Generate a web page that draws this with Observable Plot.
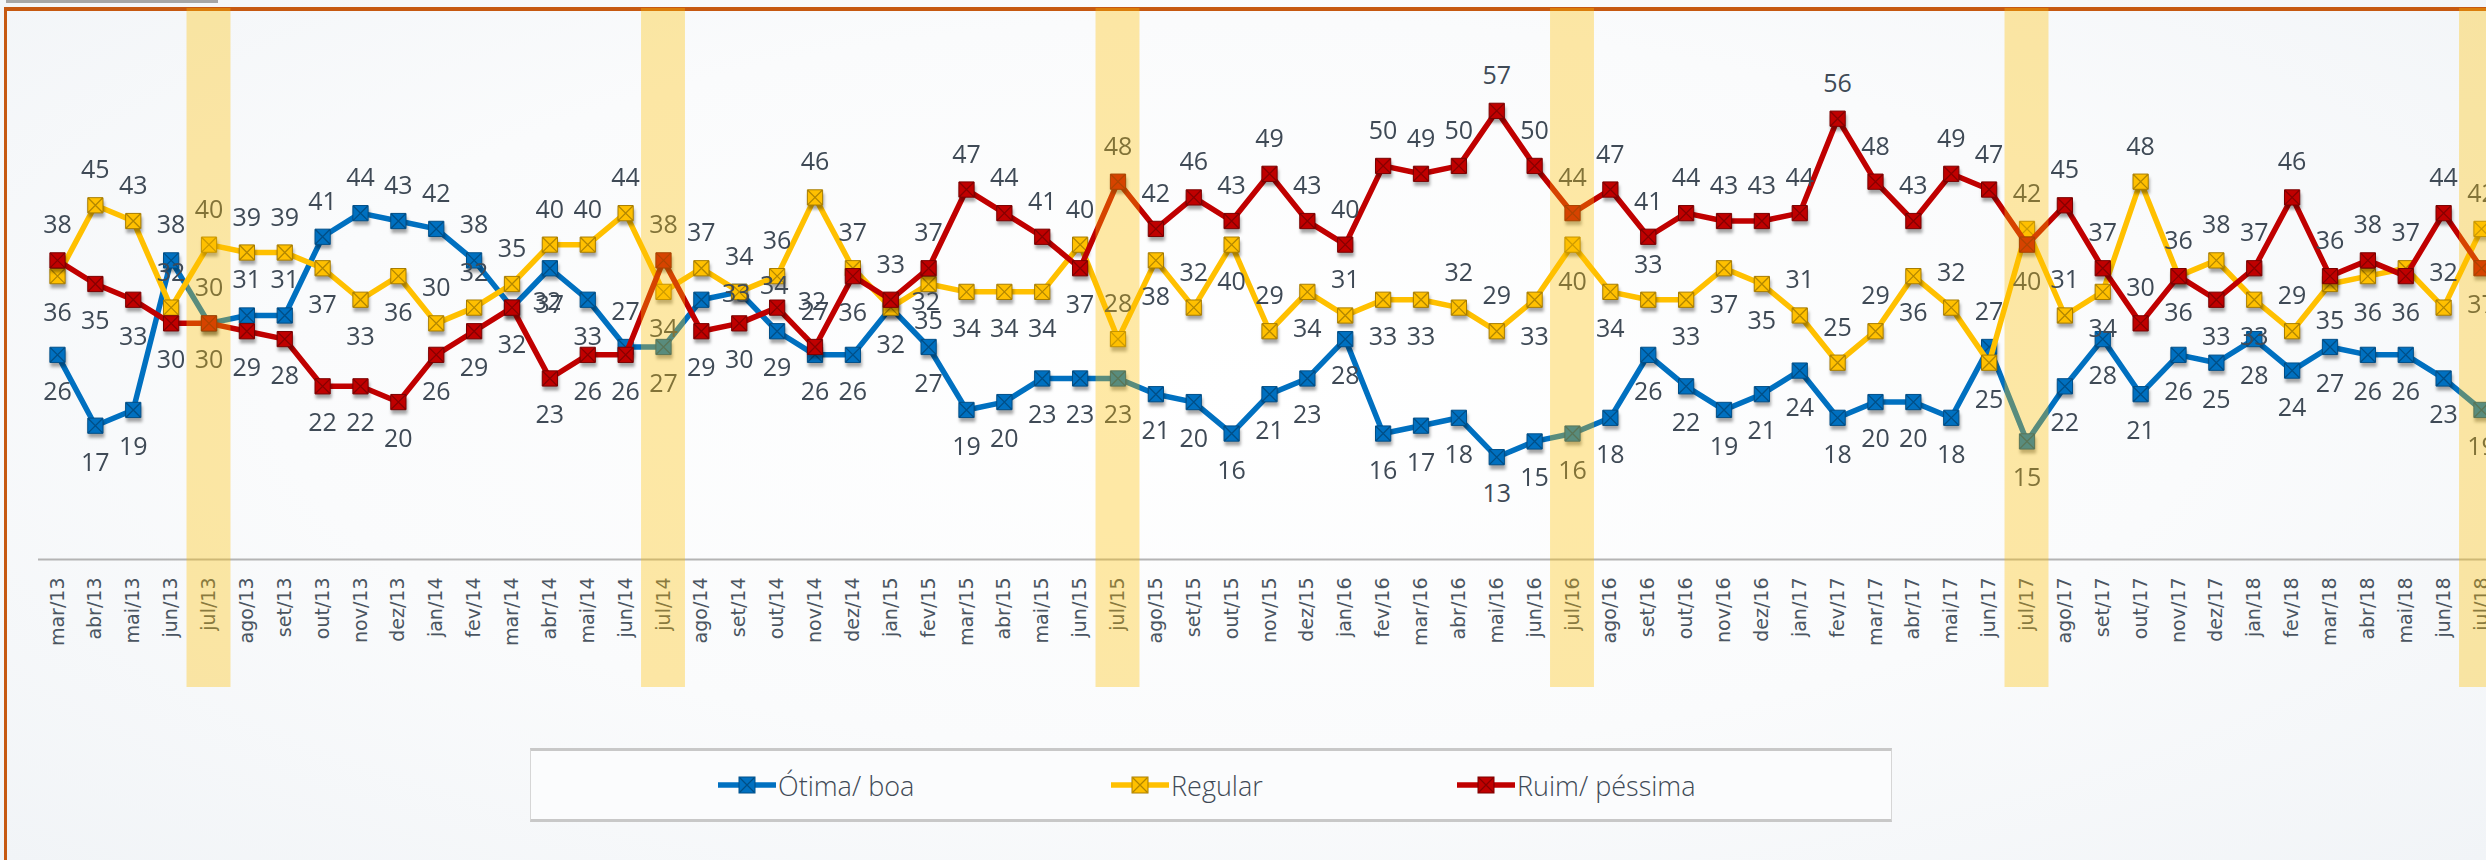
<!DOCTYPE html>
<html>
<head>
<meta charset="utf-8">
<script src="https://cdn.jsdelivr.net/npm/d3@7"></script>
<script src="https://cdn.jsdelivr.net/npm/@observablehq/plot@0.6"></script>
<style>
html, body { margin: 0; padding: 0; }
body {
  width: 2486px; height: 860px; overflow: hidden;
  background: radial-gradient(ellipse at 50% 45%, #ffffff 0%, #fafbfc 55%, #f1f4f7 100%);
  font-family: "Open Sans", sans-serif;
}
#wrap { position: relative; width: 2486px; height: 860px; }
#topbar { position: absolute; left: 6px; top: 0; width: 212px; height: 3px; background: #a6a6a6; }
#frame { position: absolute; left: 4px; top: 7px; width: 2520px; height: 900px;
  border-top: 4px solid #c65911; border-left: 3px solid #c65911; box-sizing: border-box; }
#chart { position: absolute; left: 0; top: 0; }
#legend { position: absolute; left: 530px; top: 748px; width: 1360px; height: 68px;
  border-top: 3px solid #c8c8c8; border-bottom: 3px solid #c8c8c8;
  border-left: 1px solid #d6d6d6; border-right: 1px solid #d6d6d6; background: #fbfcfd; }
.item { position: absolute; top: 0; height: 68px; display: flex; align-items: center;
  font-size: 27px; font-weight: 300; color: #3f4a56; white-space: nowrap; }
.item svg { display: block; margin-right: 2px; }
g[aria-label="dot"][fill="#000001"] { filter: blur(1.6px); }
</style>
</head>
<body>
<div id="wrap">
  <div id="topbar"></div>
  <div id="frame"></div>
  <div id="chart"></div>
  <div id="legend"></div>
</div>
<script>
const months = [
  "mar/13","abr/13","mai/13","jun/13","jul/13","ago/13","set/13","out/13","nov/13","dez/13",
  "jan/14","fev/14","mar/14","abr/14","mai/14","jun/14","jul/14","ago/14","set/14","out/14","nov/14","dez/14",
  "jan/15","fev/15","mar/15","abr/15","mai/15","jun/15","jul/15","ago/15","set/15","out/15","nov/15","dez/15",
  "jan/16","fev/16","mar/16","abr/16","mai/16","jun/16","jul/16","ago/16","set/16","out/16","nov/16","dez/16",
  "jan/17","fev/17","mar/17","abr/17","mai/17","jun/17","jul/17","ago/17","set/17","out/17","nov/17","dez/17",
  "jan/18","fev/18","mar/18","abr/18","mai/18","jun/18","jul/18"
];
const otimaBoa = [
  26,17,19,38,30,31,31,41,44,43,
  42,38,32,37,33,27,27,33,34,29,26,26,
  32,27,19,20,23,23,23,21,20,16,21,23,
  28,16,17,18,13,15,16,18,26,22,19,21,
  24,18,20,20,18,27,15,22,28,21,26,25,
  28,24,27,26,26,23,19
];
const regular = [
  36,45,43,32,40,39,39,37,33,36,
  30,32,35,40,40,44,34,37,34,36,46,37,
  32,35,34,34,34,40,28,38,32,40,29,34,
  31,33,33,32,29,33,40,34,33,33,37,35,
  31,25,29,36,32,25,42,31,34,48,36,38,
  33,29,35,36,37,32,42
];
const ruimPessima = [
  38,35,33,30,30,29,28,22,22,20,
  26,29,32,23,26,26,38,29,30,32,27,36,
  33,37,47,44,41,37,48,42,46,43,49,43,
  40,50,49,50,57,50,44,47,41,44,43,43,
  44,56,48,43,49,47,40,45,37,30,36,33,
  37,46,36,38,36,44,37
];
const seriesNames = ["Ótima/ boa", "Regular", "Ruim/ péssima"];
const highlighted = ["jul/13","jul/14","jul/15","jul/16","jul/17","jul/18"];

const seriesColors = ["#0070C0", "#FFC000", "#C00000"];
const seriesEdges = ["#004f88", "#a87d00", "#7a0000"];
const seriesValues = [otimaBoa, regular, ruimPessima];

const rows = [];
seriesNames.forEach((s, k) => {
  seriesValues[k].forEach((v, i) => rows.push({i, month: months[i], series: s, k, value: v}));
});

// label placement from the ordering of the three values at each month
months.forEach((m, i) => {
  const pts = rows.filter(r => r.i === i).slice().sort((a, b) => b.value - a.value);
  const [top, mid, bot] = pts;
  top.place = "above";
  bot.place = "below";
  const gTop = top.value - mid.value, gBot = mid.value - bot.value;
  if (Math.max(gTop, gBot) < 5) mid.place = "right";
  else mid.place = gTop > gBot ? "above" : "below";
});

const bandIdx = highlighted.map(m => months.indexOf(m));
const labelFont = {fontFamily: "Open Sans, sans-serif", fontSize: 25, fill: "#3f4a56", lineAnchor: "middle"};

const marks = [
  Plot.ruleY([0], {stroke: "#b4b4b4", strokeWidth: 2}),
  Plot.text(months, {x: (d, i) => i, y: 0, text: d => d, rotate: -90, textAnchor: "end",
    lineAnchor: "middle", dy: 18, fontSize: 19, fontFamily: "DejaVu Sans, sans-serif", fill: "#4a5561"})
];
seriesNames.forEach((s, k) => {
  const data = rows.filter(r => r.k === k);
  marks.push(
    Plot.line(data, {x: "i", y: "value", stroke: seriesColors[k], strokeWidth: 5.5, strokeLinejoin: "round"}),
    Plot.dot(data, {x: "i", y: "value", symbol: "square", r: 9, fill: "#000001", fillOpacity: 0.35, dx: 1, dy: 4}),
    Plot.dot(data, {x: "i", y: "value", symbol: "square", r: 8.6, fill: seriesColors[k], stroke: seriesEdges[k], strokeWidth: 1}),
    Plot.dot(data, {x: "i", y: "value", symbol: "times", r: 6.4, stroke: "rgba(0,0,0,0.3)", strokeWidth: 1.3})
  );
});
marks.push(
  Plot.text(rows.filter(r => r.place === "above"), {x: "i", y: "value", text: d => String(d.value), dy: -35, ...labelFont}),
  Plot.text(rows.filter(r => r.place === "below"), {x: "i", y: "value", text: d => String(d.value), dy: 37, ...labelFont}),
  Plot.text(rows.filter(r => r.place === "right"), {x: "i", y: "value", text: d => String(d.value), dx: 35, dy: -6, ...labelFont}),
  Plot.rect(bandIdx, {x1: d => d - 0.58, x2: d => d + 0.58, fill: "#FFC000", fillOpacity: 0.35})
);

const chart = Plot.plot({
  width: 2486,
  height: 700,
  marginLeft: 38,
  marginRight: 0,
  marginTop: 8,
  marginBottom: 13,
  style: {background: "transparent", maxWidth: "none"},
  x: {type: "linear", domain: [0, months.length - 1], range: [57, 2481], axis: null},
  y: {domain: [0, 70], range: [559, 8], axis: null},
  marks
});
document.getElementById("chart").appendChild(chart);

// legend
const legendX = [187, 580, 926];
const legend = document.getElementById("legend");
seriesNames.forEach((s, k) => {
  const div = document.createElement("div");
  div.className = "item";
  div.style.left = legendX[k] + "px";
  div.innerHTML =
    `<svg width="58" height="24" viewBox="0 0 58 24">
       <line x1="0" y1="12" x2="58" y2="12" stroke="${seriesColors[k]}" stroke-width="5.5"/>
       <rect x="21" y="4" width="16" height="16" fill="${seriesColors[k]}" stroke="${seriesEdges[k]}" stroke-width="1"/>
       <path d="M22 5L36 19M36 5L22 19" stroke="rgba(0,0,0,0.3)" stroke-width="1.3"/>
     </svg><span>${s}</span>`;
  legend.appendChild(div);
});
</script>
</body>
</html>
